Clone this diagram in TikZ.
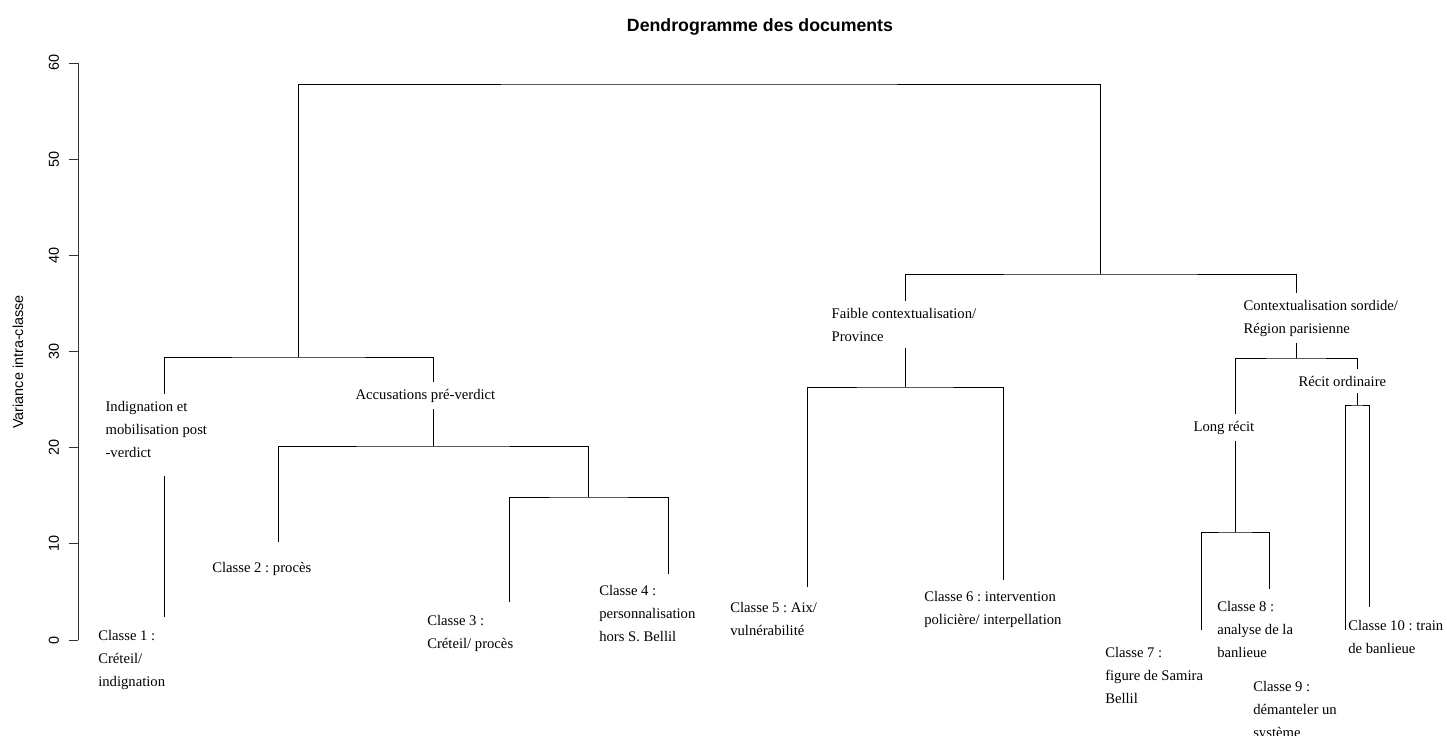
\documentclass[tikz,border=0pt]{standalone}
\usepackage{fontspec}
\setmainfont{Liberation Serif}
\setsansfont{Liberation Sans}
\frenchspacing
\usetikzlibrary{positioning}
\tikzset{
    branch/.style = {line width=0.6pt,draw=black},
    axisline/.style = {line width=0.6pt,draw=black!80},
    classlabel/.style = {anchor=north west,inner sep=0pt,align=left,font=\fontsize{11}{17.25}\selectfont},
    grouplabel/.style = {classlabel,fill=white,inner xsep=1pt,inner ysep=5pt},
    ticklabel/.style = {rotate=90,font=\sffamily\fontsize{10.8}{13}\selectfont},
    titlelabel/.style = {font=\sffamily\bfseries\fontsize{13.3}{15}\selectfont}
}
\begin{document}
\begin{tikzpicture}[x=0.75pt,y=-0.75pt]
  \useasboundingbox (0,0) rectangle (1447,736);
  % title and axis
  \node[titlelabel] (title) at (760,27) {Dendrogramme des documents};
  \node[ticklabel] (ylab) at (18,362) {Variance intra-classe};
  \draw[axisline] (78,63) -- (78,640);
  \foreach \v in {0,...,6}{
    \draw[axisline] (78,640-96.17*\v) -- (69,640-96.17*\v);
    \node[ticklabel] (tick\v) at (54,640-96.17*\v) {\the\numexpr\v*10\relax};
  }
  % leaves
  \coordinate (c1) at (164,617);
  \coordinate (c2) at (278,542);
  \coordinate (c3) at (509,602);
  \coordinate (c4) at (668,574);
  \coordinate (c5) at (807,587);
  \coordinate (c6) at (1003,580);
  \coordinate (c7) at (1201,630);
  \coordinate (c8) at (1269,589);
  \coordinate (c9) at (1345,630);
  \coordinate (c10) at (1369,607);
  % merges
  \coordinate (m34) at (588.5,497);
  \coordinate (m234) at (433,446);
  \coordinate (m1234) at (298.5,357);
  \coordinate (m56) at (905,387);
  \coordinate (m78) at (1235,532);
  \coordinate (m910) at (1357,405);
  \coordinate (m7to10) at (1296,358);
  \coordinate (m5to10) at (1100.5,274);
  \coordinate (root) at (699,84);
  \draw[branch] (c3) |- (m34) -| (c4);
  \draw[branch] (c2) |- (m234) -| (m34);
  \draw[branch] (c1) |- (m1234) -| (m234);
  \draw[branch] (c5) |- (m56) -| (c6);
  \draw[branch] (c7) |- (m78) -| (c8);
  \draw[branch] (c9) |- (m910) -| (c10);
  \draw[branch] (m78) |- (m7to10) -| (m910);
  \draw[branch] (m56) |- (m5to10) -| (m7to10);
  \draw[branch] (m1234) |- (root) -| (m5to10);
  % group labels
  \node[grouplabel] (indig) at (104,394) {Indignation et\\mobilisation post\\-verdict\\[-8pt]};
  \node[grouplabel] (accus) at (354,382) {Accusations pré-verdict};
  \node[grouplabel] (faible) at (830,301) {Faible contextualisation/\\Province};
  \node[grouplabel] (sordide) at (1242,293) {Contextualisation sordide/\\Région parisienne};
  \node[grouplabel] (ordin) at (1297,369) {Récit ordinaire};
  \node[grouplabel] (long) at (1192,414) {Long récit};
  % class labels
  \node[classlabel] (lab1) at (98,630) {Classe 1 :\\Créteil/\\indignation};
  \node[classlabel] (lab2) at (212,562) {Classe 2 : procès};
  \node[classlabel] (lab3) at (427,615) {Classe 3 :\\Créteil/ procès};
  \node[classlabel] (lab4) at (599,585) {Classe 4 :\\personnalisation\\hors S. Bellil};
  \node[classlabel] (lab5) at (730,602) {Classe 5 : Aix/\\vulnérabilité};
  \node[classlabel] (lab6) at (924,591) {Classe 6 : intervention\\policière/ interpellation};
  \node[classlabel] (lab7) at (1105,647) {Classe 7 :\\figure de Samira\\Bellil};
  \node[classlabel] (lab8) at (1217,601) {Classe 8 :\\analyse de la\\banlieue};
  \node[classlabel] (lab9) at (1253,681) {Classe 9 :\\démanteler un\\système};
  \node[classlabel] (lab10) at (1348,620) {Classe 10 : train\\de banlieue};
\end{tikzpicture}
\end{document}
